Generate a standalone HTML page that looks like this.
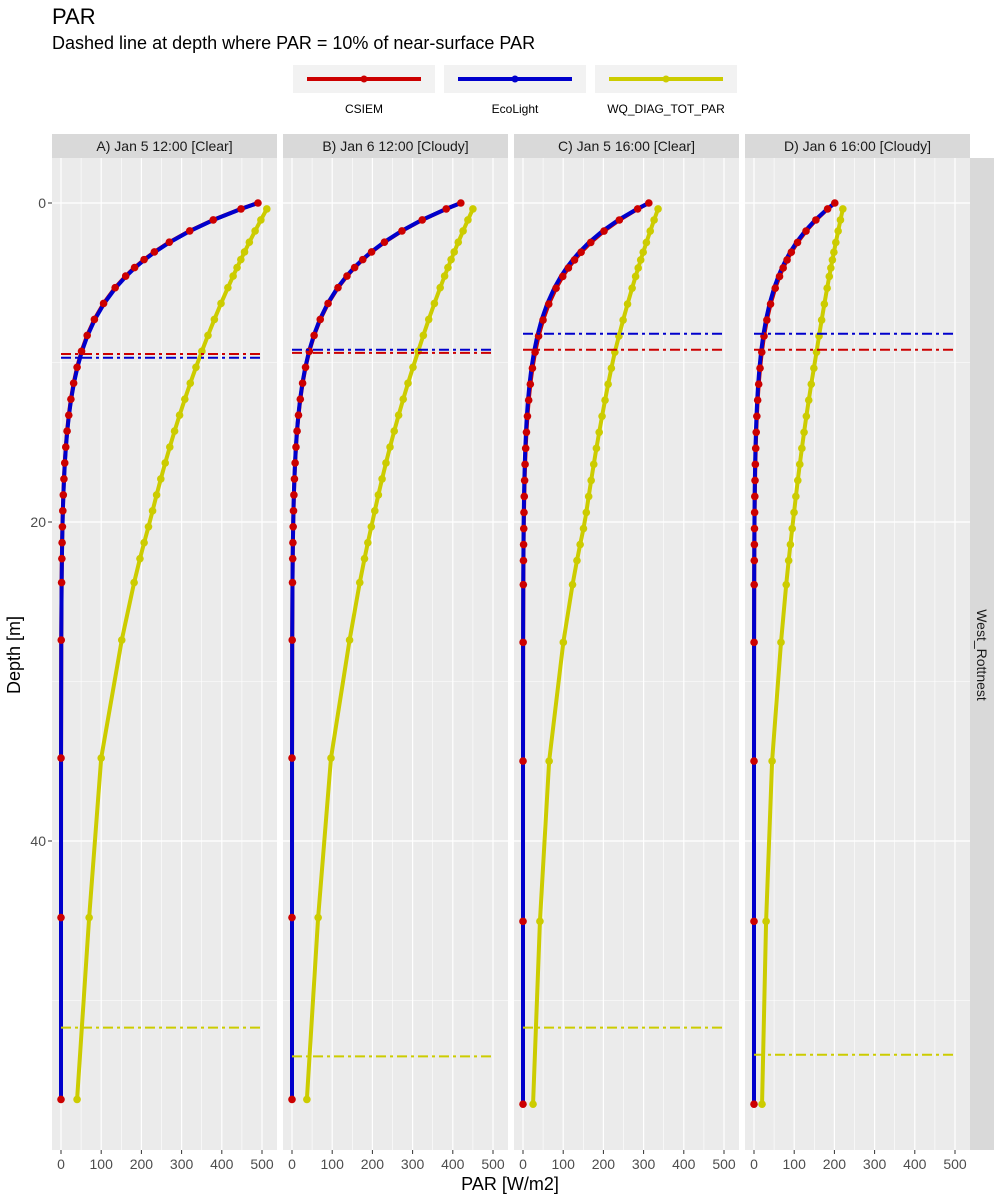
<!DOCTYPE html>
<html><head><meta charset="utf-8"><style>
body{margin:0;background:#fff;}
svg{display:block;font-family:"Liberation Sans",sans-serif;}
</style></head><body>
<svg id="s" width="1000" height="1200" xmlns="http://www.w3.org/2000/svg">
<text x="52" y="24" font-size="22" fill="#000">PAR</text>
<text x="52" y="49" font-size="18" fill="#000">Dashed line at depth where PAR = 10% of near-surface PAR</text>
<rect x="293" y="65" width="142" height="28" fill="#F2F2F2"/>
<rect x="444" y="65" width="142" height="28" fill="#F2F2F2"/>
<rect x="595" y="65" width="142" height="28" fill="#F2F2F2"/>
<line x1="307" y1="79" x2="421" y2="79" stroke="#CC0000" stroke-width="4"/><circle cx="364" cy="79" r="3.5" fill="#CC0000"/>
<line x1="458" y1="79" x2="572" y2="79" stroke="#0000CC" stroke-width="4"/><circle cx="515" cy="79" r="3.5" fill="#0000CC"/>
<line x1="609" y1="79" x2="723" y2="79" stroke="#CCCC00" stroke-width="4"/><circle cx="666" cy="79" r="3.5" fill="#CCCC00"/>
<text x="364" y="113" font-size="12" text-anchor="middle">CSIEM</text>
<text x="515" y="113" font-size="12" text-anchor="middle">EcoLight</text>
<text x="666" y="113" font-size="12" text-anchor="middle">WQ_DIAG_TOT_PAR</text>
<rect x="970" y="158" width="24" height="992" fill="#D9D9D9"/>
<text transform="translate(977,655) rotate(90)" font-size="14" fill="#1A1A1A" text-anchor="middle">West_Rottnest</text>
<text x="510" y="1190" font-size="18" text-anchor="middle">PAR [W/m2]</text>
<text transform="translate(20,655) rotate(-90)" font-size="18" text-anchor="middle">Depth [m]</text>
<g id="g"></g>
</svg>
<script>
const NS="http://www.w3.org/2000/svg";
const g=document.getElementById('g');
function el(t,a,txt){const e=document.createElementNS(NS,t);for(const k in a)e.setAttribute(k,a[k]);if(txt!==undefined)e.textContent=txt;g.appendChild(e);return e;}
const Y0=203, PY=15.95;
const yd=d=>Y0+d*PY;
const base=[0,0.37,1.06,1.75,2.46,3.07,3.55,4.05,4.58,5.31,6.3,7.3,8.3,9.3,10.3,11.3,12.3,13.3,14.3,15.3,16.3,17.3,18.3,19.3,20.3,21.3,22.3,23.8,27.4,34.8,44.8,56.2];
const panels=[
 {x0:52,title:"A) Jan 5 12:00 [Clear]",P0:490,dR:9.47,dB:9.7,yel:[[0.37,512],[9.6,346],[20,221],[27.3,152],[34.8,100],[44.8,70],[56.2,40]],dy:51.7,sc:1},
 {x0:283,title:"B) Jan 6 12:00 [Cloudy]",P0:420,dR:9.4,dB:9.2,yel:[[0.37,450],[9.6,310],[20,200],[27.3,144],[34.8,97],[44.8,65],[56.2,37]],dy:53.5,sc:1},
 {x0:514,title:"C) Jan 5 16:00 [Clear]",P0:313,dR:9.2,dB:8.2,yel:[[0.37,336],[9.6,226],[20,154],[27.6,100],[35,65],[45.1,42],[56.5,25]],dy:51.7,sc:56.5/56.2},
 {x0:745,title:"D) Jan 6 16:00 [Cloudy]",P0:201,dR:9.2,dB:8.2,yel:[[0.37,221],[9.6,154],[20,97],[27.6,67],[35,45],[45.1,30],[56.5,20]],dy:53.4,sc:56.5/56.2}
];
function yelAt(a,d){if(d<=a[0][0])return a[0][1];for(let i=1;i<a.length;i++){if(d<=a[i][0]){const t=(d-a[i-1][0])/(a[i][0]-a[i-1][0]);return Math.exp(Math.log(a[i-1][1])*(1-t)+Math.log(a[i][1])*t);}}return a[a.length-1][1];}
panels.forEach(p=>{
 const X=v=>p.x0+9+v*0.402;
 el('rect',{x:p.x0,y:134,width:225,height:24,fill:'#D9D9D9'});
 el('text',{x:p.x0+112.5,y:151,'font-size':14,'text-anchor':'middle',fill:'#1A1A1A'},p.title);
 el('rect',{x:p.x0,y:158,width:225,height:992,fill:'#EBEBEB'});
 [10,30,50].forEach(d=>el('line',{x1:p.x0,x2:p.x0+225,y1:yd(d),y2:yd(d),stroke:'#fff','stroke-width':0.6}));
 [50,150,250,350,450].forEach(v=>el('line',{x1:X(v),x2:X(v),y1:158,y2:1150,stroke:'#fff','stroke-width':0.6}));
 [0,20,40].forEach(d=>el('line',{x1:p.x0,x2:p.x0+225,y1:yd(d),y2:yd(d),stroke:'#fff','stroke-width':1.2}));
 [0,100,200,300,400,500].forEach(v=>{el('line',{x1:X(v),x2:X(v),y1:158,y2:1150,stroke:'#fff','stroke-width':1.2});
  el('line',{x1:X(v),x2:X(v),y1:1150,y2:1154,stroke:'#333','stroke-width':1});
  el('text',{x:X(v),y:1169,'font-size':14,'text-anchor':'middle',fill:'#4D4D4D'},v);});
 const ds=base.map(d=>d*p.sc);
 const kR=Math.log(10)/p.dR,kB0=Math.log(10)/p.dB;
 const kB=kR+(kB0-kR)*0.35;
 const yp=ds.slice(1).map(d=>[X(yelAt(p.yel,d)),yd(d)]);
 el('polyline',{points:yp.map(q=>q.join(',')).join(' '),fill:'none',stroke:'#CCCC00','stroke-width':4,'stroke-linejoin':'round'});
 yp.forEach(q=>el('circle',{cx:q[0],cy:q[1],r:3.8,fill:'#CCCC00'}));
 const rp=ds.map(d=>[X(p.P0*Math.exp(-kR*d)),yd(d)]);
 const bp=ds.map(d=>[X(p.P0*Math.exp(-kB*d)),yd(d)]);
 el('polyline',{points:rp.map(q=>q.join(',')).join(' '),fill:'none',stroke:'#CC0000','stroke-width':4,'stroke-linejoin':'round'});
 el('polyline',{points:bp.map(q=>q.join(',')).join(' '),fill:'none',stroke:'#0000CC','stroke-width':4,'stroke-linejoin':'round'});
 rp.forEach(q=>el('circle',{cx:q[0],cy:q[1],r:3.8,fill:'#CC0000'}));
 const dash='10,4,3,4';
 el('line',{x1:X(0),x2:X(500),y1:yd(p.dR),y2:yd(p.dR),stroke:'#CC0000','stroke-width':2,'stroke-dasharray':dash});
 el('line',{x1:X(0),x2:X(500),y1:yd(p.dB),y2:yd(p.dB),stroke:'#0000CC','stroke-width':2,'stroke-dasharray':dash});
 el('line',{x1:X(0),x2:X(500),y1:yd(p.dy),y2:yd(p.dy),stroke:'#CCCC00','stroke-width':2,'stroke-dasharray':dash});
});
[0,20,40].forEach(d=>{el('line',{x1:48,x2:52,y1:yd(d),y2:yd(d),stroke:'#333'});
 el('text',{x:46,y:yd(d)+5,'font-size':14,'text-anchor':'end',fill:'#4D4D4D'},d);});
</script>
</body></html>
